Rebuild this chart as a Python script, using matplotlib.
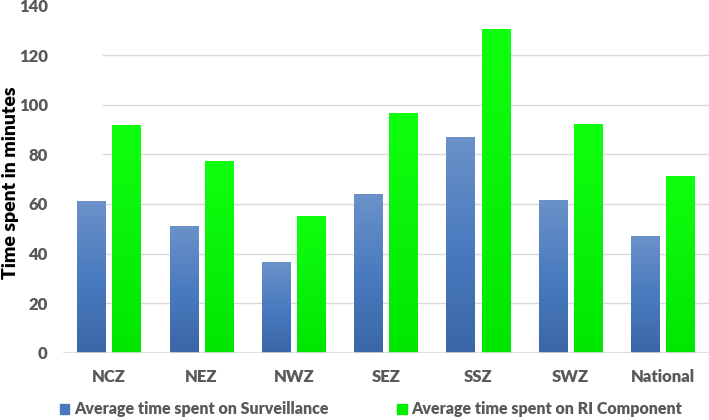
import numpy as np
import matplotlib
matplotlib.use("Agg")
import matplotlib.pyplot as plt
from matplotlib.colors import LinearSegmentedColormap
from matplotlib.patches import Patch

zones = ["NCZ", "NEZ", "NWZ", "SEZ", "SSZ", "SWZ", "National"]
surveillance = [61, 51, 36.5, 64, 87, 61.5, 47]
ri_component = [91.5, 77, 55, 96.5, 130.5, 92, 71]
series_names = ["Average time spent on Surveillance",
                "Average time spent on RI Component"]
y_ticks = [0, 20, 40, 60, 80, 100, 120, 140]

plt.rcParams["font.family"] = ["Lato", "DejaVu Sans"]
plt.rcParams["font.weight"] = "bold"

blue_map = LinearSegmentedColormap.from_list("blue", ["#3a66a8", "#4a7bbf", "#6b91c9"])
green_map = LinearSegmentedColormap.from_list("green", ["#00e600", "#10ff10"])

fig = plt.figure(figsize=(7.09, 4.2), dpi=100)
ax = fig.add_axes([0.089, 0.160, 0.911, 0.827])

x = np.arange(len(zones))
width = 0.31
offset = 0.19

blue_bars = ax.bar(x - offset, surveillance, width, color="none", zorder=3)
green_bars = ax.bar(x + offset, ri_component, width, color="none", zorder=3)

# vertical gradient fill inside each bar
grad = np.linspace(0, 1, 256).reshape(-1, 1)
for bars, cmap in ((blue_bars, blue_map), (green_bars, green_map)):
    for b in bars:
        x0, w, h = b.get_x(), b.get_width(), b.get_height()
        ax.imshow(grad, cmap=cmap, origin="lower", aspect="auto",
                  extent=(x0, x0 + w, 0, h), zorder=3)

ax.set_xlim(-0.5, len(zones) - 0.5)
ax.set_ylim(0, 140)

for t in y_ticks[1:-1]:
    ax.axhline(t, xmin=0.062, xmax=1.0, color="#d9d9d9", lw=1, zorder=1)
ax.axhline(0, color="#d9d9d9", lw=1.2, zorder=4)

for side in ["top", "right", "left", "bottom"]:
    ax.spines[side].set_visible(False)

ax.set_yticks(y_ticks)
ax.set_yticklabels([str(t) for t in y_ticks], color="#595959", fontsize=12,
                   fontweight="heavy")
ax.set_xticks(x)
ax.set_xticklabels(zones, color="#595959", fontsize=12, fontweight="heavy")
ax.tick_params(axis="y", length=0, pad=11)
ax.tick_params(axis="x", length=0, pad=12)

ax.set_ylabel("Time spent in minutes", fontsize=14, fontweight="heavy",
              color="black", va="center")
ax.yaxis.set_label_coords(-0.081, 0.49)

handles = [Patch(color="#4a78bb"), Patch(color="#00f000")]
fig.legend(handles, series_names, loc="lower left", bbox_to_anchor=(0.064, -0.028),
           ncol=2, frameon=False, columnspacing=4.3,
           handlelength=0.6, handleheight=0.6, handletextpad=0.3,
           prop={"weight": "heavy", "size": 11.5})
for txt in fig.legends[0].get_texts():
    txt.set_color("#595959")

fig.savefig("out.png", dpi=100)
